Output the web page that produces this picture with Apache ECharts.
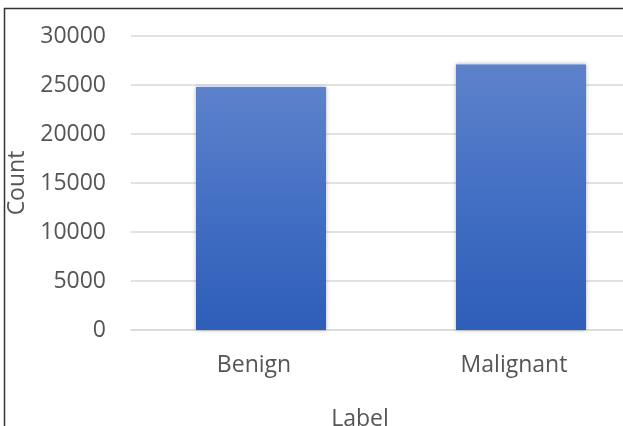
<!DOCTYPE html>
<html>
<head>
<meta charset="utf-8">
<script src="https://cdn.jsdelivr.net/npm/echarts@6/dist/echarts.min.js"></script>
<style>
html,body{margin:0;padding:0;background:#fff;}
#c{width:623px;height:426px;}
</style>
</head>
<body>
<div id="c"></div>
<script>
const categories = ['Benign', 'Malignant'];
const counts = [24800, 27100];
const yTicks = [0, 5000, 10000, 15000, 20000, 25000, 30000];
const xTitle = 'Label';
const yTitle = 'Count';

const chart = echarts.init(document.getElementById('c'), null, {renderer: 'canvas'});
const font = '"Open Sans", "Noto Sans", sans-serif';
chart.setOption({
  animation: false,
  backgroundColor: '#fff',
  graphic: [{
    type: 'rect',
    shape: {x: 4.5, y: 8.5, width: 800, height: 600},
    style: {fill: 'none', stroke: '#333', lineWidth: 1.5},
    silent: true
  }],
  title: [{
    text: xTitle,
    left: 355,
    top: 403,
    textAlign: 'center',
    textStyle: {fontFamily: font, fontSize: 23, fontWeight: 'normal', color: '#555555'}
  }],
  grid: {left: 131, top: 36, width: 520, height: 294, containLabel: false, outerBoundsMode: 'none'},
  xAxis: {
    type: 'category',
    data: categories,
    axisLine: {lineStyle: {color: '#d9d9d9', width: 1.5}},
    axisTick: {show: false},
    axisLabel: {fontFamily: font, fontSize: 23, color: '#555555', margin: 24, padding: [0, 14, 0, 0]}
  },
  yAxis: {
    type: 'value',
    min: yTicks[0],
    max: yTicks[yTicks.length - 1],
    interval: yTicks[1] - yTicks[0],
    name: yTitle,
    nameLocation: 'middle',
    nameGap: 100,
    nameRotate: 90,
    nameTextStyle: {fontFamily: font, fontSize: 23, color: '#555555'},
    axisLine: {show: false},
    axisTick: {show: false},
    splitLine: {lineStyle: {color: '#d9d9d9', width: 1.5}},
    axisLabel: {fontFamily: font, fontSize: 23, color: '#555555', margin: 25, formatter: v => String(v)}
  },
  series: [{
    type: 'bar',
    data: counts,
    barWidth: '50%',
    itemStyle: {
      color: new echarts.graphic.LinearGradient(0, 0, 0, 1, [
        {offset: 0, color: '#5d82ca'},
        {offset: 0.5, color: '#436fc4'},
        {offset: 1, color: '#2e5eb8'}
      ]),
      shadowBlur: 4,
      shadowColor: 'rgba(0,0,0,0.3)',
      shadowOffsetX: 0,
      shadowOffsetY: 0
    }
  }]
});
</script>
</body>
</html>
